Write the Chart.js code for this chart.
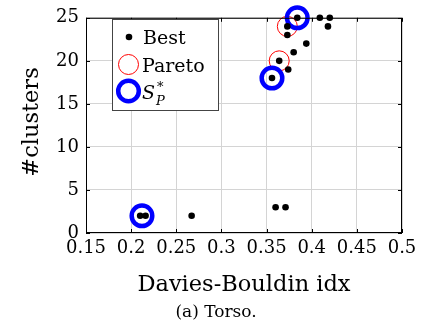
<!DOCTYPE html>
<html>
<head>
<meta charset="utf-8">
<script src="https://cdn.jsdelivr.net/npm/chart.js@4"></script>
<style>
  html, body { margin:0; padding:0; background:#fff; }
  #wrap { width:424px; height:327px; }
</style>
</head>
<body>
<div id="wrap"><canvas id="c" width="424" height="327"></canvas></div>
<script>
// values
const bestX   = [0.384, 0.409, 0.420, 0.418, 0.373, 0.373, 0.394, 0.380, 0.364, 0.374, 0.356, 0.210, 0.216, 0.267, 0.360, 0.371];
const bestY   = [25, 25, 25, 24, 24, 23, 22, 21, 20, 19, 18, 2, 2, 2, 3, 3];
const paretoX = [0.384, 0.373, 0.364, 0.356, 0.212];
const paretoY = [25, 24, 20, 18, 2];
const spX     = [0.384, 0.356, 0.212];
const spY     = [25, 18, 2];
const xTicks  = [0.15, 0.2, 0.25, 0.3, 0.35, 0.4, 0.45, 0.5];
const yTicks  = [0, 5, 10, 15, 20, 25];

const SERIF = '"DejaVu Serif"';

function pts(xs, ys){ return xs.map((x, i) => ({ x, y: ys[i] })); }
function fmt(v){ return String(Number(v.toFixed(2))); }

// frame, inside ticks, legend box and captions
const decor = {
  id: "decor",
  afterDraw(chart){
    const { ctx, chartArea: a, scales } = chart;
    ctx.save();

    // inner tick marks
    ctx.strokeStyle = "#000";
    ctx.lineWidth = 1;
    ctx.beginPath();
    xTicks.forEach(v => {
      const px = Math.round(scales.x.getPixelForValue(v)) + 0.5;
      ctx.moveTo(px, a.bottom); ctx.lineTo(px, a.bottom - 4);
      ctx.moveTo(px, a.top);    ctx.lineTo(px, a.top + 4);
    });
    yTicks.forEach(v => {
      const py = Math.round(scales.y.getPixelForValue(v)) + 0.5;
      ctx.moveTo(a.left, py);  ctx.lineTo(a.left + 4, py);
      ctx.moveTo(a.right, py); ctx.lineTo(a.right - 4, py);
    });
    ctx.stroke();

    // frame
    ctx.strokeRect(a.left + 0.5, a.top + 0.5, a.right - a.left - 1, a.bottom - a.top - 1);

    // legend
    const lx = 112.5, ly = 19.5, lw = 106, lh = 91;
    ctx.fillStyle = "#fff";
    ctx.fillRect(lx, ly, lw, lh);
    ctx.strokeStyle = "#444";
    ctx.strokeRect(lx, ly, lw, lh);

    ctx.fillStyle = "#000";
    ctx.beginPath(); ctx.arc(129, 37, 3.3, 0, Math.PI * 2); ctx.fill();
    ctx.strokeStyle = "#ff0000"; ctx.lineWidth = 1;
    ctx.beginPath(); ctx.arc(128.5, 64.5, 10, 0, Math.PI * 2); ctx.stroke();
    ctx.strokeStyle = "#0000ff"; ctx.lineWidth = 4.5;
    ctx.beginPath(); ctx.arc(128.5, 91, 10.3, 0, Math.PI * 2); ctx.stroke();

    ctx.fillStyle = "#000";
    ctx.textAlign = "left";
    ctx.textBaseline = "alphabetic";
    ctx.font = `19px ${SERIF}`;
    ctx.fillText("Best", 143, 44);
    ctx.fillText("Pareto", 142, 72);
    ctx.font = `italic 19px ${SERIF}`;
    ctx.fillText("S", 142, 99);
    ctx.font = `italic 13px ${SERIF}`;
    ctx.fillText("P", 156, 105);
    ctx.font = `13px ${SERIF}`;
    ctx.fillText("*", 157, 91);

    // axis titles
    ctx.font = `22.5px ${SERIF}`;
    ctx.textAlign = "center";
    ctx.fillText("Davies-Bouldin idx", (a.left + a.right) / 2, 291);
    ctx.save();
    ctx.translate(38, 122);
    ctx.rotate(-Math.PI / 2);
    ctx.fillText("#clusters", 0, 0);
    ctx.restore();

    // caption
    ctx.font = `17px ${SERIF}`;
    ctx.fillText("(a) Torso.", 216, 317);
    ctx.restore();
  }
};

new Chart(document.getElementById("c"), {
  type: "scatter",
  data: {
    datasets: [
      { label: "Best", data: pts(bestX, bestY), order: 1, clip: false,
        pointRadius: 3.3, pointBackgroundColor: "#000", pointBorderWidth: 0 },
      { label: "Pareto", data: pts(paretoX, paretoY), order: 3, clip: false,
        pointRadius: 10, pointBackgroundColor: "rgba(0,0,0,0)", pointBorderColor: "#ff0000", pointBorderWidth: 1 },
      { label: "S_P*", data: pts(spX, spY), order: 2, clip: false,
        pointRadius: 10.3, pointBackgroundColor: "rgba(0,0,0,0)", pointBorderColor: "#0000ff", pointBorderWidth: 4.5 }
    ]
  },
  options: {
    responsive: false,
    animation: false,
    layout: { padding: { top: 13, right: 22, left: 0, bottom: 0 } },
    plugins: { legend: { display: false }, tooltip: { enabled: false } },
    scales: {
      x: {
        type: "linear", min: 0.15, max: 0.5,
        afterBuildTicks: s => { s.ticks = xTicks.map(v => ({ value: v })); },
        afterFit: s => { s.height = 94; },
        grid: { color: "#d4d4d4", drawTicks: false },
        border: { display: false },
        ticks: { padding: 5, color: "#000", font: { family: SERIF, size: 18 }, callback: v => fmt(v), maxRotation: 0 }
      },
      y: {
        type: "linear", min: 0, max: 25,
        afterBuildTicks: s => { s.ticks = yTicks.map(v => ({ value: v })); },
        afterFit: s => { s.width = 86; },
        grid: { color: "#d4d4d4", drawTicks: false },
        border: { display: false },
        ticks: { padding: 7, color: "#000", font: { family: SERIF, size: 18 }, callback: v => fmt(v) }
      }
    }
  },
  plugins: [decor]
});
</script>
</body>
</html>
